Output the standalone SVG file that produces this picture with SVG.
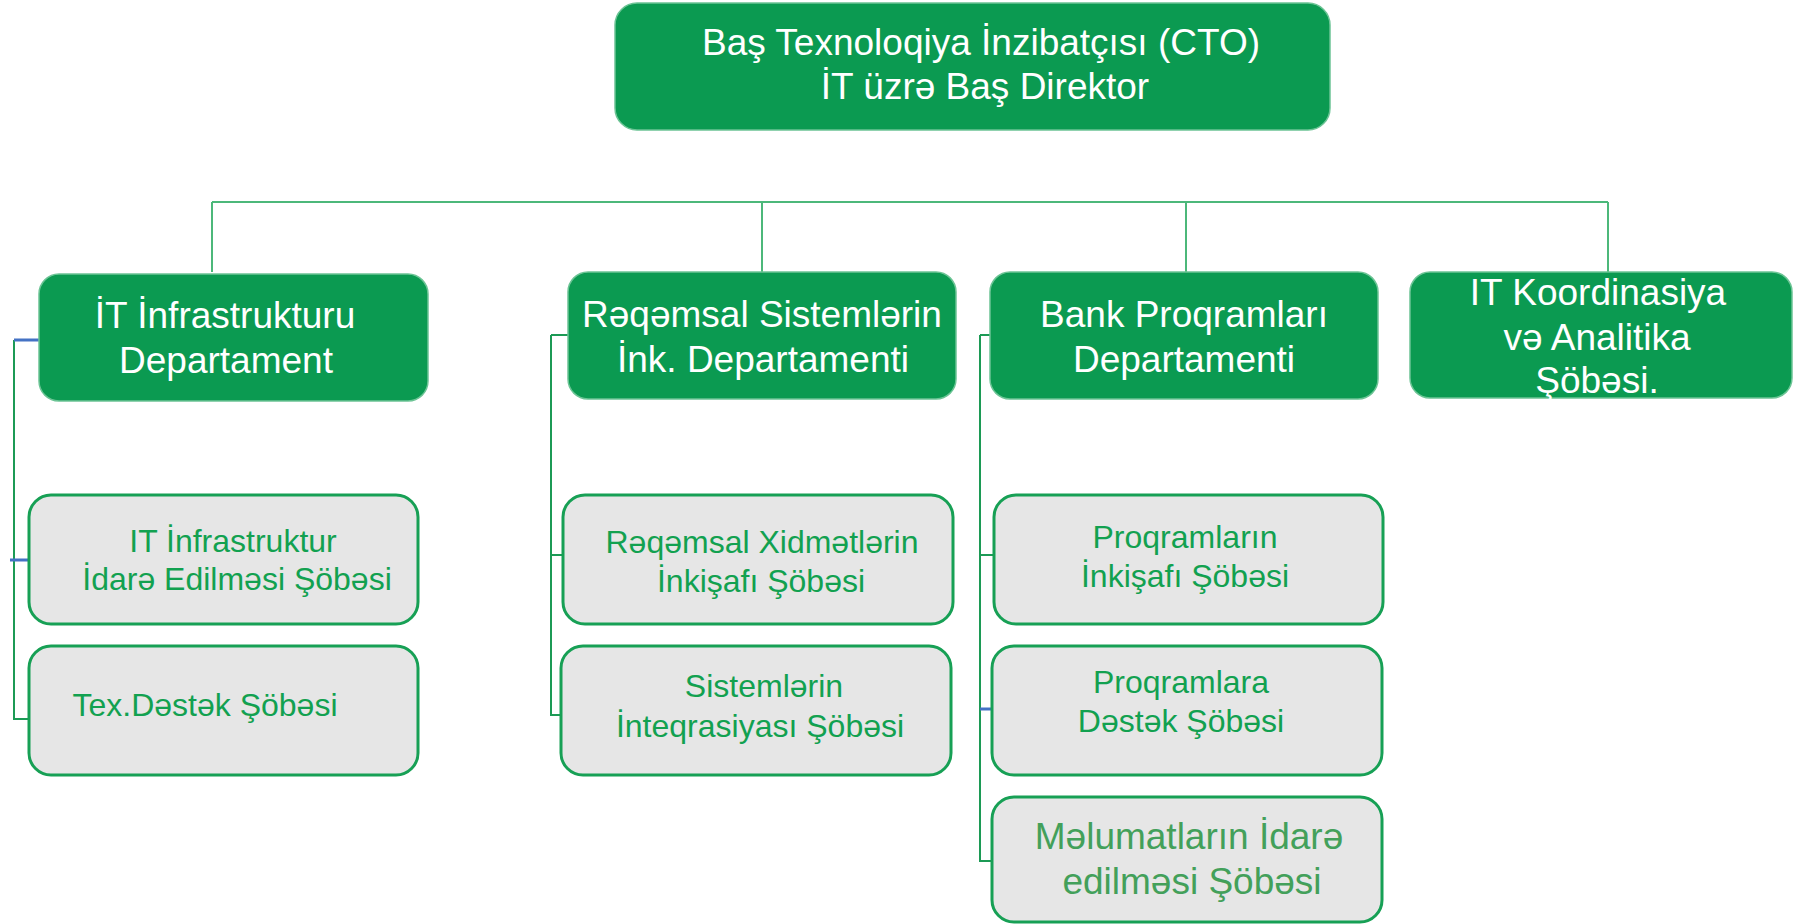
<svg xmlns="http://www.w3.org/2000/svg" width="1793" height="924" viewBox="0 0 1793 924">
<style>
  .head{fill:#0b9a51;stroke:#6cc495;stroke-width:1.5}
  .sub{fill:#e6e6e6;stroke:#17a055;stroke-width:3}
  .wt{font-family:"Liberation Sans",Arial,sans-serif;font-size:37px;fill:#ffffff;text-anchor:middle}
  .gt{font-family:"Liberation Sans",Arial,sans-serif;font-size:32px;fill:#12a150;text-anchor:middle}
  .gt2{font-family:"Liberation Sans",Arial,sans-serif;font-size:37px;fill:#43a05a;text-anchor:middle}
  .top{fill:none;stroke:#4cb87a;stroke-width:2}
  .col{fill:none;stroke:#1c9a55;stroke-width:2}
  .blue{fill:none;stroke:#4472c4;stroke-width:3}
</style>
<g id="connectors">
  <path class="top" d="M212 202 H1608 M212 202 V272 M762 202 V272 M1186 202 V272 M1608 202 V272"/>
  <path class="col" d="M14 340 V719 H29"/>
  <path class="blue" d="M14 340 H39 M10 560 H29"/>
  <path class="col" d="M551 335 H568 M551 335 V715 H561 M551 555 H563"/>
  <path class="col" d="M980 335 H990 M980 335 V861 H992 M980 555 H994"/>
  <path class="blue" d="M980 709 H992"/>
</g>
<g id="cto">
  <rect class="head" x="615" y="3" width="715" height="127" rx="22"/>
  <text class="wt" x="981" y="55">Baş Texnoloqiya İnzibatçısı (CTO)</text>
  <text class="wt" x="985" y="99">İT üzrə Baş Direktor</text>
</g>
<g id="dept-infra">
  <rect class="head" x="39" y="274" width="389" height="127" rx="20"/>
  <text class="wt" x="225" y="328">İT İnfrastrukturu</text>
  <text class="wt" x="226" y="373">Departament</text>
</g>
<g id="dept-digital">
  <rect class="head" x="568" y="272" width="388" height="127" rx="20"/>
  <text class="wt" x="762" y="327">Rəqəmsal Sistemlərin</text>
  <text class="wt" x="763" y="372">İnk. Departamenti</text>
</g>
<g id="dept-bank">
  <rect class="head" x="990" y="272" width="388" height="127" rx="20"/>
  <text class="wt" x="1184" y="327">Bank Proqramları</text>
  <text class="wt" x="1184" y="372">Departamenti</text>
</g>
<g id="dept-coord">
  <rect class="head" x="1410" y="272" width="382" height="126" rx="20"/>
  <text class="wt" x="1598" y="305">IT Koordinasiya</text>
  <text class="wt" x="1597" y="350">və Analitika</text>
  <text class="wt" x="1597" y="393">Şöbəsi.</text>
</g>
<g id="sub-infra-mgmt">
  <rect class="sub" x="29" y="495" width="389" height="129" rx="22"/>
  <text class="gt" x="233" y="552">IT İnfrastruktur</text>
  <text class="gt" x="237" y="590">İdarə Edilməsi Şöbəsi</text>
</g>
<g id="sub-tech-support">
  <rect class="sub" x="29" y="646" width="389" height="129" rx="22"/>
  <text class="gt" x="205" y="716">Tex.Dəstək Şöbəsi</text>
</g>
<g id="sub-digital-services">
  <rect class="sub" x="563" y="495" width="390" height="129" rx="22"/>
  <text class="gt" x="762" y="553">Rəqəmsal Xidmətlərin</text>
  <text class="gt" x="761" y="592">İnkişafı Şöbəsi</text>
</g>
<g id="sub-integration">
  <rect class="sub" x="561" y="646" width="390" height="129" rx="22"/>
  <text class="gt" x="764" y="697">Sistemlərin</text>
  <text class="gt" x="760" y="737">İnteqrasiyası Şöbəsi</text>
</g>
<g id="sub-prog-dev">
  <rect class="sub" x="994" y="495" width="389" height="129" rx="22"/>
  <text class="gt" x="1185" y="548">Proqramların</text>
  <text class="gt" x="1185" y="587">İnkişafı Şöbəsi</text>
</g>
<g id="sub-prog-support">
  <rect class="sub" x="992" y="646" width="390" height="129" rx="22"/>
  <text class="gt" x="1181" y="693">Proqramlara</text>
  <text class="gt" x="1181" y="732">Dəstək Şöbəsi</text>
</g>
<g id="sub-data-mgmt">
  <rect class="sub" x="992" y="797" width="390" height="125" rx="22"/>
  <text class="gt2" x="1189" y="849">Məlumatların İdarə</text>
  <text class="gt2" x="1192" y="894">edilməsi Şöbəsi</text>
</g>
</svg>
